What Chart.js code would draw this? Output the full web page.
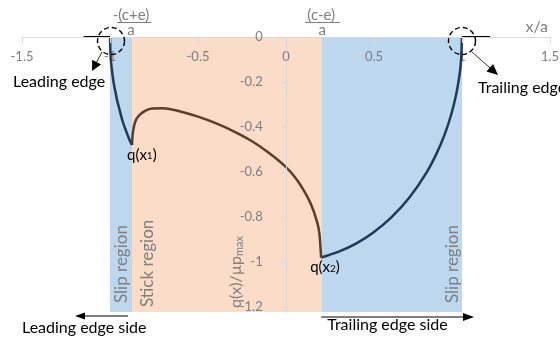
<!DOCTYPE html>
<html><head><meta charset="utf-8">
<script src="https://cdn.jsdelivr.net/npm/chart.js@4/dist/chart.umd.min.js"></script>
<style>html,body{margin:0;padding:0;background:#fff}canvas{display:block}</style>
</head><body>
<canvas id="c" width="560" height="338"></canvas>
<script>
// ---- data ----
const xTicks = [-1.5, -1, -0.5, 0, 0.5, 1, 1.5];
const yTicks = [0, -0.2, -0.4, -0.6, -0.8, -1, -1.2];
const regionEdges = [-1, -0.875, 0.2, 1];   // slip | stick | slip
const leadX = [-1, -0.997, -0.993, -0.987, -0.98, -0.97, -0.96, -0.95, -0.93, -0.91, -0.89, -0.875];
const leadY = [0, -0.08, -0.12, -0.16, -0.2, -0.24, -0.28, -0.31, -0.37, -0.415, -0.455, -0.48];
const stickX = [-0.875, -0.872, -0.868, -0.86, -0.85, -0.83, -0.8, -0.76, -0.7, -0.65, -0.6, -0.5, -0.4, -0.3, -0.2, -0.1, 0, 0.05, 0.1, 0.14, 0.17, 0.19, 0.2];
const stickY = [-0.48, -0.44, -0.415, -0.385, -0.365, -0.345, -0.328, -0.318, -0.317, -0.322, -0.331, -0.354, -0.383, -0.418, -0.46, -0.513, -0.578, -0.622, -0.68, -0.74, -0.805, -0.875, -0.98];
const trailX = [0.2, 0.3, 0.4, 0.5, 0.6, 0.7, 0.8, 0.85, 0.9, 0.94, 0.97, 0.985, 0.995, 1];
const trailY = [-0.98, -0.954, -0.917, -0.866, -0.8, -0.714, -0.6, -0.527, -0.436, -0.341, -0.243, -0.173, -0.1, 0];
const freeLeftX = [-1.15, -1];
const freeRightX = [1, 1.16];
const freeY = [0, 0];
const yMin = -1.222;

const pts = (xs, ys) => xs.map((x, i) => ({x: x, y: ys[i]}));
const BLUE_FILL = '#bdd7ee', ORANGE_FILL = '#fbdcc9';
const GRAY = '#7f7f7f';
const FONT = 'Lato, "Open Sans", sans-serif';
const fmt = v => String(Math.round(v * 10) / 10);

function curve(data, color, w) {
  return {data: data, borderColor: color, borderWidth: w, pointRadius: 0, fill: false,
          cubicInterpolationMode: 'monotone', clip: false};
}
function region(x0, x1, color) {
  return {data: pts([x0, x1], [0, 0]), borderWidth: 0, pointRadius: 0, fill: 'start',
          backgroundColor: color, borderColor: 'rgba(0,0,0,0)', tension: 0};
}

function arrow(ctx, x1, y1, x2, y2, len, half) {
  const a = Math.atan2(y2 - y1, x2 - x1);
  ctx.beginPath(); ctx.moveTo(x1, y1);
  ctx.lineTo(x2 - len * 0.6 * Math.cos(a), y2 - len * 0.6 * Math.sin(a)); ctx.stroke();
  ctx.beginPath(); ctx.moveTo(x2, y2);
  ctx.lineTo(x2 - len * Math.cos(a) + half * Math.sin(a), y2 - len * Math.sin(a) - half * Math.cos(a));
  ctx.lineTo(x2 - len * Math.cos(a) - half * Math.sin(a), y2 - len * Math.sin(a) + half * Math.cos(a));
  ctx.closePath(); ctx.fill();
}
function subText(ctx, x, y, parts, size, subSize, dy) {
  let cx = x;
  parts.forEach(p => {
    ctx.font = (p[1] ? subSize : size) + 'px ' + FONT;
    ctx.fillText(p[0], cx, y + (p[1] ? dy : 0));
    cx += ctx.measureText(p[0]).width;
  });
}

const LAST_SHADE_INDEX = 5; // shading datasets are drawn first (indices 7,6,5)

const annot = {
  id: 'annot',
  beforeDraw(chart) {
    // x tick labels are drawn above the shading but below the curves
    const X = chart.scales.x;
    if (X && !X._patchedLabels) {
      X._origDrawLabels = X.drawLabels;
      X.drawLabels = function () {};
      X._patchedLabels = true;
    }
  },
  afterDatasetDraw(chart, args) {
    if (args.index === LAST_SHADE_INDEX) {
      const X = chart.scales.x;
      X._origDrawLabels.call(X, chart.chartArea);
    }
  },
  afterDraw(chart) {
    const ctx = chart.ctx, X = chart.scales.x, Y = chart.scales.y;
    const px = v => X.getPixelForValue(v), py = v => Y.getPixelForValue(v);
    const y0 = py(0);
    ctx.save();
    ctx.textBaseline = 'middle';
    // fractions above region edges
    ctx.fillStyle = GRAY; ctx.strokeStyle = GRAY; ctx.lineWidth = 1;
    ctx.font = '15px ' + FONT; ctx.textAlign = 'center';
    const fx1 = px(regionEdges[1]) - 1, fx2 = px(regionEdges[2]);
    ctx.fillText('-(c+e)', fx1, y0 - 22);
    ctx.beginPath(); ctx.moveTo(fx1 - 14, y0 - 14.5); ctx.lineTo(fx1 + 20, y0 - 14.5); ctx.stroke();
    ctx.fillText('a', fx1, y0 - 7);
    ctx.fillText('(c-e)', fx2, y0 - 22);
    ctx.beginPath(); ctx.moveTo(fx2 - 16, y0 - 14.5); ctx.lineTo(fx2 + 19, y0 - 14.5); ctx.stroke();
    ctx.fillText('a', fx2 + 1, y0 - 7);
    // x/a
    ctx.font = '16px ' + FONT; ctx.textAlign = 'right';
    ctx.fillText('x/a', px(1.5) - 2, y0 - 10);
    // dashed circles
    ctx.strokeStyle = '#000'; ctx.lineWidth = 1.4; ctx.setLineDash([5, 3]);
    const cL = [px(-1) + 1, y0 + 4], cR = [px(1), y0 + 4];
    ctx.beginPath(); ctx.arc(cL[0], cL[1], 13.5, 0, Math.PI * 2); ctx.stroke();
    ctx.beginPath(); ctx.arc(cR[0], cR[1], 13.5, 0, Math.PI * 2); ctx.stroke();
    ctx.setLineDash([]);
    // arrows from circles
    ctx.strokeStyle = '#333'; ctx.fillStyle = '#000'; ctx.lineWidth = 1;
    arrow(ctx, cL[0] - 9, cL[1] + 11, cL[0] - 19, cL[1] + 30, 10, 5);
    arrow(ctx, cR[0] + 10, cR[1] + 11, cR[0] + 36, cR[1] + 34, 11, 5);
    // black labels
    ctx.fillStyle = '#000'; ctx.font = '16px ' + FONT; ctx.textAlign = 'left';
    ctx.fillText('Leading edge', 13, 82);
    ctx.fillText('Trailing edge', cR[0] + 16, 88);
    ctx.fillText('Leading edge side', 22, 328);
    ctx.fillText('Trailing edge side', px(regionEdges[2]) + 6, 325);
    // bottom arrows
    ctx.strokeStyle = '#000'; ctx.lineWidth = 1.2;
    arrow(ctx, px(regionEdges[1]) - 4, 316, 75, 316, 10, 3.5);
    arrow(ctx, px(regionEdges[2]), 317, 474, 317, 11, 4);
    // q(x1), q(x2)
    subText(ctx, px(regionEdges[1]) - 5, py(-0.48) + 10, [['q(x', 0], ['1', 1], [')', 0]], 15, 10, 1);
    subText(ctx, px(regionEdges[2]) - 11, py(-0.98) + 10, [['q(x', 0], ['2', 1], [')', 0]], 15, 10, 1);
    // rotated gray labels
    ctx.fillStyle = GRAY;
    const rot = (x, y, fn) => { ctx.save(); ctx.translate(x, y); ctx.rotate(-Math.PI / 2); fn(); ctx.restore(); };
    ctx.textAlign = 'left';
    rot(122, 303, () => { ctx.font = '17px ' + FONT; ctx.fillText('Slip region', 0, 0); });
    rot(148, 307, () => { ctx.font = '17px ' + FONT; ctx.fillText('Stick region', 0, 0); });
    rot(453, 303, () => { ctx.font = '17px ' + FONT; ctx.fillText('Slip region', 0, 0); });
    rot(236, 308, () => { subText(ctx, 0, 0, [['q(x)/\u00b5p', 0], ['max', 1]], 16, 11, 3); });
    ctx.restore();
  }
};

new Chart(document.getElementById('c'), {
  type: 'line',
  data: {
    datasets: [
      curve(pts(freeLeftX, freeY), '#000', 2),
      curve(pts(freeRightX, freeY), '#000', 2),
      curve(pts(leadX, leadY), '#1f3a57', 2.5),
      curve(pts(stickX, stickY), '#5a3d2b', 2.5),
      curve(pts(trailX, trailY), '#1f3a57', 2.5),
      region(regionEdges[0], regionEdges[1], BLUE_FILL),
      region(regionEdges[1], regionEdges[2], ORANGE_FILL),
      region(regionEdges[2], regionEdges[3], BLUE_FILL)
    ]
  },
  options: {
    responsive: false, animation: false, devicePixelRatio: 1,
    layout: {padding: {left: 22, right: 10, top: 37, bottom: 26}},
    plugins: {legend: {display: false}, tooltip: {enabled: false}},
    events: [],
    scales: {
      x: {
        type: 'linear', min: -1.5, max: 1.5, position: {y: 0},
        afterBuildTicks: s => { s.ticks = xTicks.map(v => ({value: v})); },
        grid: {drawOnChartArea: false, drawTicks: true, tickLength: 12, tickBorderDash: [5, 40],
               tickColor: '#d9d9d9', z: 1},
        border: {display: true, color: '#d9d9d9', width: 1, z: 1},
        ticks: {color: GRAY, font: {family: FONT, size: 13}, padding: 0,
                callback: fmt, maxRotation: 0, autoSkip: false}
      },
      y: {
        type: 'linear', min: yMin, max: 0, position: {x: 0},
        afterBuildTicks: s => { s.ticks = yTicks.map(v => ({value: v})); },
        grid: {drawOnChartArea: false, drawTicks: true, tickLength: 4, tickColor: '#d9d9d9', z: 1},
        border: {display: true, color: '#d9d9d9', width: 1, z: 1},
        ticks: {color: GRAY, font: {family: FONT, size: 13}, padding: 9, z: 1,
                callback: v => fmt(v) + '       ', autoSkip: false}
      }
    }
  },
  plugins: [annot]
});
</script>
</body></html>
